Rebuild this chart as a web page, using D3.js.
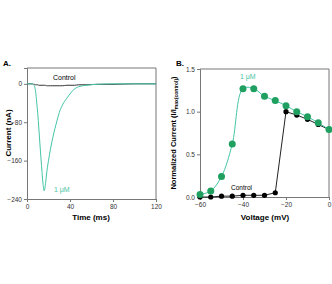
<!DOCTYPE html>
<html>
<head>
<meta charset="utf-8">
<script src="https://cdn.jsdelivr.net/npm/d3@7"></script>
<style>
body { margin: 0; background: #fff; }
svg text { font-family: Arial, "Liberation Sans", sans-serif; }
</style>
</head>
<body>
<div id="chart"></div>
<script>
// panel A: current traces
var timeMs = [0, 5, 6, 7, 8, 9, 10, 11, 12, 13, 14, 15, 16, 17, 18, 19, 20, 22, 24, 26, 28, 30, 33, 37, 40, 44, 48, 55, 65, 80, 100, 120]
var drugCurrent = [0, 0, -1, -5, -16, -38, -62, -92, -125, -155, -185, -210, -223, -212, -192, -174, -160, -134, -112, -93, -76, -60, -44, -30, -21, -11, -6, -3, -1, 0, 0, 0]
var ctrlCurrent = [0, 0, -1, -1, -2, -2, -2, -3, -3, -3, -3, -3, -3, -3, -4, -4, -4, -4, -4, -4, -4, -4, -4, -3, -3, -3, -2, -2, -1, -1, 0, 0]
var timeTicks = [0, 40, 80, 120]
var currentTicks = [0, -80, -160, -240]

// panel B: normalized I-V
var voltage = [-60, -55, -50, -45, -40, -35, -30, -25, -20, -15, -10, -5, 0]
var drugNorm = [0.03, 0.07, 0.24, 0.62, 1.27, 1.27, 1.18, 1.13, 1.07, 1.00, 0.94, 0.87, 0.79]
var ctrlNorm = [0.00, 0.00, 0.01, 0.01, 0.02, 0.02, 0.02, 0.05, 1.00, 0.96, 0.91, 0.85, 0.79]
var voltTicks = [-60, -40, -20, 0]
var normTicks = [0, 0.5, 1.0, 1.5]

var teal = "#45c4a6"
var green = "#1fa060"
var axisCol = "#777"

var svg = d3.select("#chart").append("svg")
    .attr("width", 332)
    .attr("height", 284)

function box(g, x, y) {
    var x0 = x.range()[0], x1 = x.range()[1]
    var y0 = y.range()[0], y1 = y.range()[1]
    g.append("path")
        .attr("d", "M" + x0 + "," + y1 + "H" + x1 + "V" + y0)
        .attr("fill", "none")
        .attr("stroke", axisCol)
        .attr("stroke-width", 1)
}

function styleAxis(a) {
    a.select(".domain").attr("stroke", axisCol)
    a.selectAll(".tick line").attr("stroke", axisCol)
    a.selectAll(".tick text").attr("font-size", 6.5).attr("fill", "#333")
}

// ---------- panel A
var xA = d3.scaleLinear().domain([0, 120]).range([27, 156])
var yA = d3.scaleLinear().domain([-240, 33]).range([199, 68])

var gA = svg.append("g")
box(gA, xA, yA)

gA.append("g")
    .attr("transform", "translate(0," + yA(-240) + ")")
    .call(d3.axisBottom(xA).tickValues(timeTicks).tickSize(3).tickPadding(2))
    .call(styleAxis)

gA.append("g")
    .attr("transform", "translate(" + xA(0) + ",0)")
    .call(d3.axisLeft(yA).tickValues(currentTicks).tickSize(3).tickPadding(2))
    .call(styleAxis)

var lineA = d3.line()
    .x(function (d, i) { return xA(timeMs[i]) })
    .y(function (d) { return yA(d) })
    .curve(d3.curveMonotoneX)

gA.append("path")
    .datum(ctrlCurrent)
    .attr("d", lineA)
    .attr("fill", "none")
    .attr("stroke", "#333")
    .attr("stroke-width", 1)

gA.append("path")
    .datum(drugCurrent)
    .attr("d", lineA)
    .attr("fill", "none")
    .attr("stroke", teal)
    .attr("stroke-width", 1)

gA.append("text").attr("x", 53).attr("y", 80).attr("font-size", 7).attr("fill", "#000").text("Control")
gA.append("text").attr("x", 54).attr("y", 192).attr("font-size", 7).attr("fill", teal).text("1 μM")

gA.append("text").attr("x", 91).attr("y", 220).attr("text-anchor", "middle")
    .attr("font-size", 8).attr("font-weight", "bold").text("Time (ms)")
gA.append("text").attr("transform", "translate(11,133) rotate(-90)").attr("text-anchor", "middle")
    .attr("font-size", 8).attr("font-weight", "bold").text("Current (nA)")
gA.append("text").attr("x", 3).attr("y", 66).attr("font-size", 8).attr("font-weight", "bold").text("A.")

// ---------- panel B
var xB = d3.scaleLinear().domain([-60, 0]).range([200, 329])
var yB = d3.scaleLinear().domain([0, 1.5]).range([197, 69])

var gB = svg.append("g")
box(gB, xB, yB)

gB.append("g")
    .attr("transform", "translate(0," + yB(0) + ")")
    .call(d3.axisBottom(xB).tickValues(voltTicks).tickSize(3).tickPadding(2))
    .call(styleAxis)

gB.append("g")
    .attr("transform", "translate(" + xB(-60) + ",0)")
    .call(d3.axisLeft(yB).tickValues(normTicks).tickFormat(d3.format(".1f")).tickSize(3).tickPadding(2))
    .call(styleAxis)

var lineDrug = d3.line()
    .x(function (d, i) { return xB(voltage[i]) })
    .y(function (d) { return yB(d) })
    .curve(d3.curveCatmullRom.alpha(0.5))

var lineCtrl = d3.line()
    .x(function (d, i) { return xB(voltage[i]) })
    .y(function (d) { return yB(d) })

gB.append("path")
    .datum(ctrlNorm)
    .attr("d", lineCtrl)
    .attr("fill", "none")
    .attr("stroke", "#222")
    .attr("stroke-width", 1)

gB.append("path")
    .datum(drugNorm)
    .attr("d", lineDrug)
    .attr("fill", "none")
    .attr("stroke", teal)
    .attr("stroke-width", 1)

gB.selectAll(".cdot")
    .data(ctrlNorm)
    .enter()
    .append("circle")
    .attr("class", "cdot")
    .attr("cx", function (d, i) { return xB(voltage[i]) })
    .attr("cy", function (d) { return yB(d) })
    .attr("r", 2.6)
    .attr("fill", "#000")

gB.selectAll(".ddot")
    .data(drugNorm)
    .enter()
    .append("circle")
    .attr("class", "ddot")
    .attr("cx", function (d, i) { return xB(voltage[i]) })
    .attr("cy", function (d) { return yB(d) })
    .attr("r", 3.5)
    .attr("fill", green)

gB.append("text").attr("x", 240).attr("y", 79).attr("font-size", 7).attr("fill", teal).text("1 μM")
gB.append("text").attr("x", 231).attr("y", 190).attr("font-size", 6.5).attr("fill", "#000").text("Control")

gB.append("text").attr("x", 265).attr("y", 220).attr("text-anchor", "middle")
    .attr("font-size", 8).attr("font-weight", "bold").text("Voltage (mV)")

var yt = gB.append("text").attr("transform", "translate(176,133) rotate(-90)").attr("text-anchor", "middle")
    .attr("font-size", 7.5).attr("font-weight", "bold")
yt.append("tspan").text("Normalized Current (I/I")
yt.append("tspan").attr("font-size", 5).attr("dy", 1.5).text("max(control)")
yt.append("tspan").attr("dy", -1.5).text(")")
gB.append("text").attr("x", 176).attr("y", 66).attr("font-size", 8).attr("font-weight", "bold").text("B.")
</script>
</body>
</html>
